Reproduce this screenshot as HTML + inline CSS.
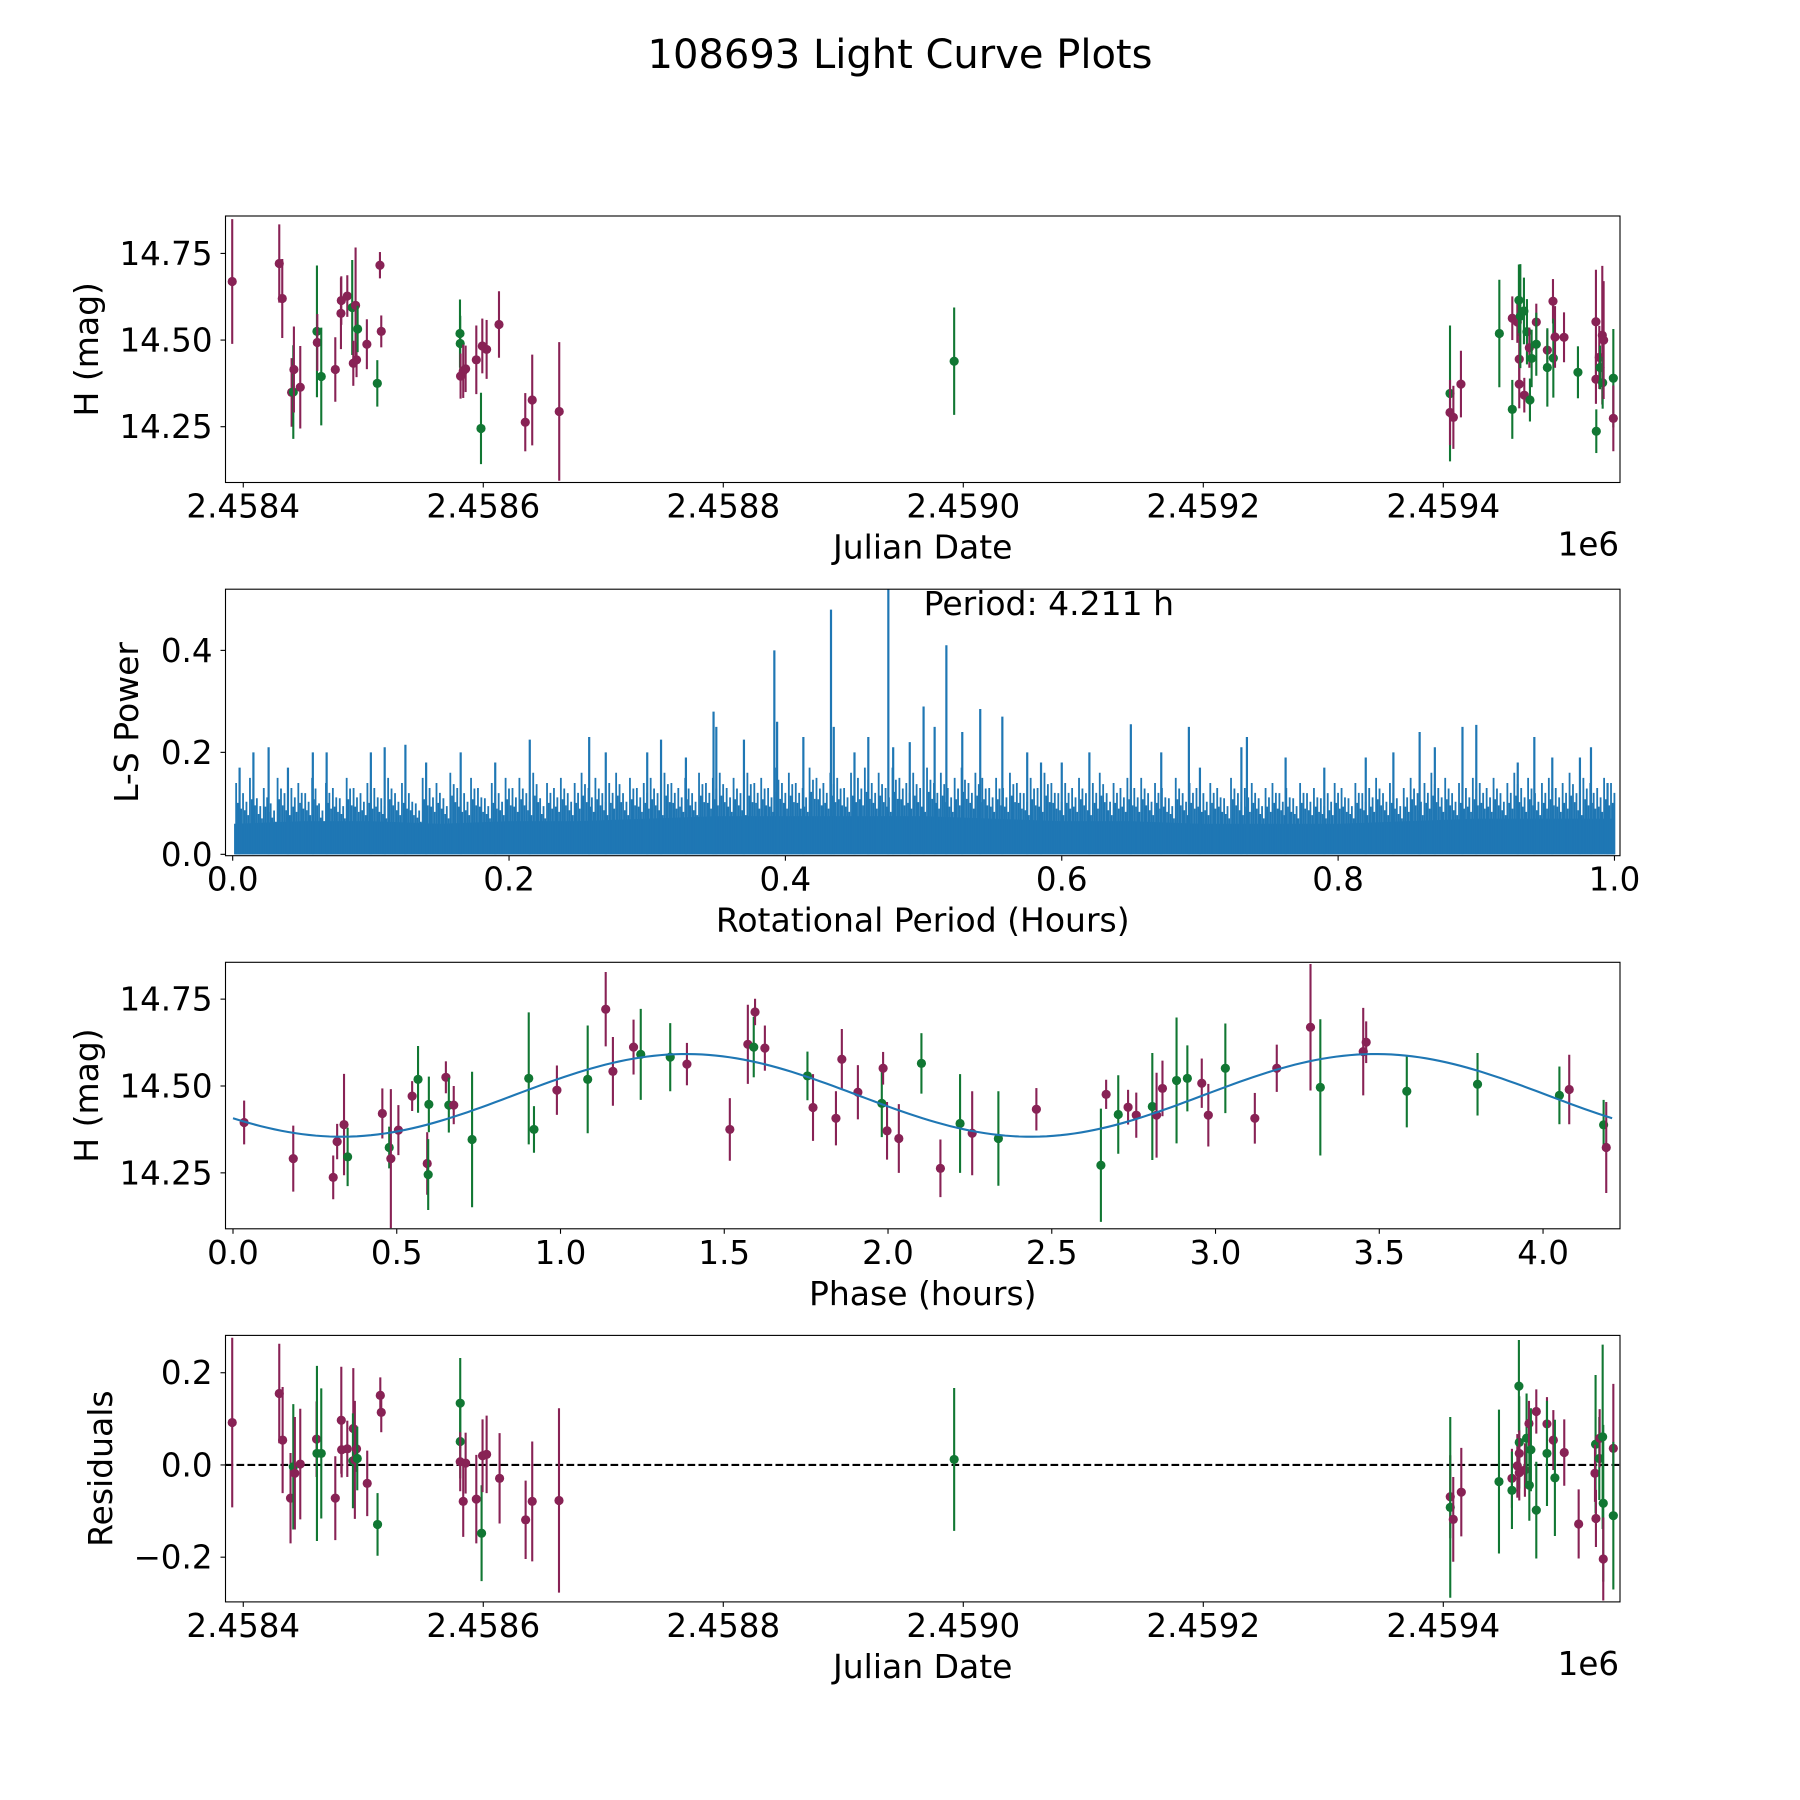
<!DOCTYPE html>
<html><head><meta charset="utf-8"><title>108693 Light Curve Plots</title>
<style>
html,body{margin:0;padding:0;background:#fff;}
svg{display:block;font-family:"DejaVu Sans","Liberation Sans",sans-serif;}
</style></head>
<body>
<svg id="fig" width="1800" height="1800" viewBox="0 0 1800 1800" xmlns="http://www.w3.org/2000/svg">
<rect x="0" y="0" width="1800" height="1800" fill="#fff"/>
<text x="900" y="68" font-size="40" text-anchor="middle">108693 Light Curve Plots</text>
</svg>
<script>
// ---------- Light curve data (JD - 2458400) ----------
const JD_BASE = 2458400;
const lcDays = [-9.2,30,32.5,40.3,41.7,42.2,47.5,61.4,61.7,65,76.7,81.4,81.7,86.7,90.8,91.7,93.6,94.4,95.3,103,111.7,113.9,115,180.6,180.8,181.1,183.3,185.3,194.2,198.1,199.2,202.8,213.1,235,240.8,263.3,592.4,
1005.6,1005.6,1008.4,1014.7,1046.7,1057.5,1057.5,1061.7,1063,1063.3,1063.3,1064.2,1067.2,1067.5,1069.7,1071.7,1072.2,1073.6,1077.5,1077.5,1086.7,1086.7,1091.4,1091.7,1093.1,1100.6,1112.2,1127.2,1127.2,1127.5,1130,1130.6,1132.5,1132.8,1133.6,1141.7,1141.7];
const lcMag = [14.669,14.721,14.62,14.349,14.35,14.415,14.364,14.525,14.493,14.395,14.415,14.577,14.614,14.627,14.594,14.433,14.60,14.443,14.532,14.488,14.375,14.716,14.525,14.519,14.49,14.396,14.41,14.417,14.443,14.245,14.483,14.473,14.545,14.263,14.327,14.294,14.439,
14.346,14.291,14.277,14.373,14.519,14.30,14.563,14.552,14.615,14.445,14.373,14.569,14.584,14.341,14.524,14.478,14.327,14.447,14.552,14.488,14.471,14.421,14.612,14.448,14.509,14.508,14.407,14.553,14.387,14.237,14.45,14.421,14.514,14.377,14.50,14.39,14.274];
const lcErr = [0.18,0.113,0.114,0.099,0.135,0.124,0.119,0.19,0.082,0.141,0.093,0.103,0.07,0.06,0.137,0.065,0.167,0.05,0.067,0.072,0.067,0.038,0.046,0.098,0.08,0.065,0.077,0.067,0.099,0.103,0.079,0.085,0.096,0.084,0.131,0.2,0.155,
0.196,0.094,0.091,0.096,0.155,0.085,0.063,0.06,0.103,0.075,0.07,0.15,0.096,0.05,0.094,0.058,0.062,0.083,0.053,0.091,0.058,0.113,0.064,0.114,0.089,0.072,0.075,0.15,0.071,0.063,0.091,0.063,0.2,0.075,0.17,0.142,0.095];
const lcBand = "PPPPGPPGPGPPPPGPPPGPGPPGGPPPPGPPPPPPG"+"GPPPGGPPGPPGGPGPGGPGPGPGPPGPPGPGPGPG";

// ---------- Lomb-Scargle periodogram ----------
const lsGridStart = 0.0025, lsGridStep = 0.005;
const lsPower = [
.14,.12,.15,.11,.13,.10,.15,.12,.13,.14, .12,.15,.10,.14,.13,.11,.15,.13,.12,.14,
.13,.11,.15,.12,.14,.12,.10,.15,.13,.14, .11,.16,.13,.12,.15,.13,.11,.14,.12,.15,
.13,.15,.12,.16,.11,.14,.13,.15,.12,.14, .16,.13,.15,.12,.14,.16,.12,.15,.13,.14,
.15,.12,.16,.14,.13,.15,.12,.16,.14,.15, .16,.13,.15,.12,.16,.14,.15,.13,.17,.14,
.16,.14,.13,.17,.15,.14,.16,.15,.13,.16, .15,.17,.14,.16,.13,.17,.15,.14,.16,.13,
.17,.14,.16,.13,.15,.17,.14,.16,.15,.13, .15,.13,.16,.14,.12,.15,.13,.16,.14,.12,
.14,.13,.15,.12,.14,.16,.12,.14,.13,.15, .13,.15,.12,.14,.13,.11,.15,.12,.14,.13,
.12,.14,.13,.11,.15,.12,.13,.14,.11,.13, .14,.12,.13,.11,.14,.12,.13,.11,.12,.14,
.13,.11,.14,.12,.13,.15,.12,.14,.11,.13, .15,.12,.14,.16,.13,.15,.12,.14,.13,.15,
.14,.13,.15,.12,.14,.16,.13,.15,.12,.14, .15,.13,.14,.16,.12,.15,.14,.13,.15,.14];
const lsFloor = [.06,.065,.065,.06,.065,.065,.07,.075,.075,.075,.075,.07,.065,.065,.06,.06,.06,.065,.07,.07,.07];
const peakPeriods = [0.005,0.015,0.026,0.04,0.058,0.068,0.1,0.11,0.125,0.14,0.165,0.19,0.215,0.258,0.27,0.3,0.31,0.328,0.348,0.35,0.37,0.392,0.394,0.413,0.433,0.435,0.45,0.46,0.4745,0.478,0.49,0.5,0.508,0.5165,0.528,0.541,0.557,0.575,0.585,0.6,0.62,0.65,0.672,0.692,0.7,0.73,0.734,0.762,0.79,0.82,0.84,0.859,0.87,0.89,0.9,0.93,0.942,0.955,0.975,0.983,0.995];
const peakPowers  = [0.17,0.2,0.21,0.17,0.2,0.2,0.2,0.21,0.215,0.18,0.2,0.18,0.225,0.23,0.2,0.2,0.225,0.19,0.28,0.25,0.225,0.40,0.26,0.23,0.48,0.25,0.2,0.23,0.53,0.21,0.22,0.29,0.25,0.41,0.24,0.285,0.27,0.2,0.18,0.18,0.2,0.255,0.2,0.25,0.17,0.21,0.23,0.19,0.17,0.19,0.2,0.24,0.21,0.25,0.254,0.18,0.23,0.19,0.19,0.21,0.14];

// ---------- Phased light curve ----------
const phPhase = [0.034,0.184,0.306,0.318,0.339,0.35,0.456,0.477,0.482,0.505,0.547,0.565,0.593,0.596,0.598,0.65,0.659,0.674,0.73,0.903,0.919,0.989,1.083,1.138,1.16,1.223,1.245,1.335,1.386,1.517,1.572,1.59,1.594,1.624,1.754,1.771,1.841,1.859,1.908,1.981,1.985,1.997,2.033,
2.102,2.16,2.22,2.257,2.337,2.453,2.65,2.666,2.703,2.733,2.758,2.807,2.82,2.838,2.881,2.914,2.958,2.978,3.03,3.12,3.187,3.29,3.32,3.451,3.46,3.584,3.8,4.05,4.08,4.185,4.193];
const phMag = [14.395,14.291,14.237,14.34,14.389,14.296,14.421,14.323,14.291,14.373,14.471,14.519,14.277,14.245,14.447,14.525,14.445,14.445,14.346,14.522,14.375,14.488,14.519,14.721,14.542,14.612,14.591,14.583,14.563,14.375,14.62,14.612,14.713,14.609,14.529,14.438,14.407,14.577,14.482,14.45,14.551,14.371,14.349,
14.565,14.263,14.392,14.364,14.349,14.433,14.272,14.476,14.418,14.439,14.416,14.441,14.416,14.493,14.516,14.522,14.508,14.416,14.551,14.407,14.551,14.669,14.496,14.599,14.626,14.485,14.505,14.473,14.49,14.388,14.323];
const phErr = [0.063,0.095,0.063,0.051,0.146,0.084,0.072,0.06,0.2,0.072,0.043,0.096,0.09,0.102,0.08,0.046,0.079,0.055,0.195,0.19,0.067,0.071,0.155,0.107,0.099,0.079,0.131,0.098,0.061,0.09,0.114,0.087,0.038,0.065,0.07,0.096,0.078,0.087,0.078,0.097,0.047,0.083,0.099,
0.087,0.083,0.142,0.121,0.136,0.061,0.163,0.042,0.113,0.05,0.065,0.154,0.122,0.08,0.181,0.095,0.071,0.09,0.129,0.073,0.068,0.182,0.196,0.126,0.06,0.104,0.09,0.083,0.1,0.072,0.131];
const phBand = "PPPPPGPGPPPGPGGPGPGGGPGPPPGGPPPGPPGPPPPGPPP"+"GPGPGPGPGPPGPPGGPPGPPPGPPGGGPGPP";
const modelPeriod = 4.211, modelMean = 14.473, modelAmp = 0.119, modelMinPhase = 0.33;

// ---------- Residuals ----------
const resDays = [-9.2,30,32.8,39.4,41.7,43,47.5,61.1,61.4,65,76.7,81.7,82,86.7,91.7,91.4,93,94.4,95,103.3,111.9,114.2,115,180.8,180.8,180.8,183.3,185.3,194.2,198.6,199.4,202.8,213.6,235.3,240.8,263.1,592.4,
1005.8,1005.8,1008.3,1015,1046.4,1057.2,1057.2,1061.7,1063,1063.3,1063.3,1063.3,1068,1069.4,1071.4,1071.7,1073,1077.5,1077.5,1086.4,1086.4,1091.7,1093,1100.8,1112.8,1126.9,1126.4,1127.2,1130,1130.3,1132.8,1133.3,1133.3,1141.7,1141.7];
const resVal = [0.092,0.155,0.054,-0.072,-0.004,-0.018,0.002,0.056,0.025,0.025,-0.072,0.097,0.033,0.035,0.079,0.009,0.011,0.035,0.014,-0.04,-0.129,0.151,0.114,0.134,0.051,0.007,-0.079,0.004,-0.074,-0.148,0.02,0.023,-0.029,-0.119,-0.079,-0.077,0.012,
-0.069,-0.092,-0.118,-0.059,-0.036,-0.029,-0.055,-0.002,0.171,0.049,0.025,-0.017,-0.011,0.058,0.09,-0.044,0.033,0.116,-0.098,0.089,0.025,0.054,-0.028,0.027,-0.128,0.045,-0.018,-0.116,0.014,0.058,0.061,-0.083,-0.204,0.036,-0.11];
const resErr = [0.184,0.108,0.115,0.098,0.136,0.122,0.12,0.082,0.19,0.141,0.091,0.116,0.06,0.061,0.131,0.103,0.128,0.05,0.069,0.071,0.068,0.039,0.043,0.098,0.08,0.064,0.077,0.066,0.096,0.104,0.079,0.084,0.098,0.085,0.13,0.2,0.155,
0.09,0.196,0.092,0.096,0.156,0.064,0.084,0.069,0.1,0.1,0.05,0.06,0.058,0.097,0.049,0.077,0.09,0.048,0.105,0.058,0.114,0.065,0.126,0.072,0.075,0.15,0.062,0.062,0.09,0.063,0.2,0.17,0.09,0.14,0.16];
const resBand = "PPPPGPPPGGPPPPPGPPGPGPPGGPPPPGPPPPPPG"+"PGPPGPGPGGPPPGPGGPGPGPGPPGPPGPGGPPG";

// ---------- Layout ----------
const NS = "http://www.w3.org/2000/svg";
const svg = document.getElementById('fig');
const AXL = 225.5, AXW = 1394.5, AXH = 266.5;
const AXTOPS = [216, 589.2, 962.3, 1335.4];
const COL = {P: '#882255', G: '#117733'};
const FS = 32.5;
function el(tag, attrs, parent) {
  const e = document.createElementNS(NS, tag);
  for (const k in attrs) e.setAttribute(k, attrs[k]);
  (parent || svg).appendChild(e);
  return e;
}
function scale(d0, d1, p0, p1) { return v => p0 + (v - d0) / (d1 - d0) * (p1 - p0); }
function fmtMinus(s) { return s.replace('-', '\u2212'); }

function makeAxes(i, name, xr, yr) {
  const top = AXTOPS[i];
  const g = el('g', {});
  
  
  const cp = el('clipPath', {id: 'clip' + i}, g);
  el('rect', {x: AXL, y: top, width: AXW, height: AXH}, cp);
  const plot = el('g', {'clip-path': 'url(#clip' + i + ')'}, g);
  
  
  return {g, plot, top, bottom: top + AXH,
    sx: scale(xr[0], xr[1], AXL, AXL + AXW),
    sy: scale(yr[0], yr[1], top + AXH, top)};
}
function frame(ax, name) {
  const r = el('rect', {x: AXL, y: ax.top, width: AXW, height: AXH, fill: 'none', stroke: '#000', 'stroke-width': 1.1}, ax.g);
  
  
}
function xTicks(ax, vals, labels, name) {
  vals.forEach((v, k) => {
    const x = ax.sx(v);
    const t = el('line', {x1: x, x2: x, y1: ax.bottom, y2: ax.bottom + 5, stroke: '#000', 'stroke-width': 1.1}, ax.g);
    
    
    const tx = el('text', {x: x, y: ax.bottom + 35, 'font-size': FS, 'text-anchor': 'middle'}, ax.g);
    tx.textContent = labels[k];
    
    
  });
}
function yTicks(ax, vals, labels, name) {
  vals.forEach((v, k) => {
    const y = ax.sy(v);
    const t = el('line', {x1: AXL - 5, x2: AXL, y1: y, y2: y, stroke: '#000', 'stroke-width': 1.1}, ax.g);
    
    
    const tx = el('text', {x: AXL - 13, y: y + 11.5, 'font-size': FS, 'text-anchor': 'end'}, ax.g);
    tx.textContent = labels[k];
    
    
  });
}
function labels(ax, xl, yl, ylx, name) {
  const a = el('text', {x: AXL + AXW / 2, y: ax.bottom + 76, 'font-size': FS + 0.5, 'text-anchor': 'middle'}, ax.g);
  a.textContent = xl;
  
  
  const cy = ax.top + AXH / 2;
  const b = el('text', {x: ylx, y: cy, 'font-size': FS + 0.5, 'text-anchor': 'middle', transform: 'rotate(-90 ' + ylx + ' ' + cy + ')'}, ax.g);
  b.textContent = yl;
  
  
}
function offsetText(ax, name) {
  const t = el('text', {x: 1619, y: ax.bottom + 73, 'font-size': FS, 'text-anchor': 'end'}, ax.g);
  t.textContent = '1e6';
  
  
}
function errorbars(ax, xs, ys, es, bands, name) {
  for (let i = 0; i < xs.length; i++) {
    const c = COL[bands[i]] || COL.P;
    const x = ax.sx(xs[i]);
    const ln = el('line', {x1: x, x2: x, y1: ax.sy(ys[i] - es[i]), y2: ax.sy(ys[i] + es[i]), stroke: c, 'stroke-width': 2.1}, ax.plot);
    
    
    const d = el('circle', {cx: x, cy: ax.sy(ys[i]), r: 4.6, fill: c}, ax.plot);
    
    
  }
}

const jdTicks = [0, 200, 400, 600, 800, 1000];
const jdTickLabels = ['2.4584', '2.4586', '2.4588', '2.4590', '2.4592', '2.4594'];
const magTicks = [14.25, 14.5, 14.75];
const magTickLabels = ['14.25', '14.50', '14.75'];

// Panel 1: light curve
const ax1 = makeAxes(0, 'light-curve-panel', [-14.8, 1147.25], [14.089, 14.858]);
errorbars(ax1, lcDays, lcMag, lcErr, lcBand, 'light-curve');
frame(ax1, 'light-curve');
xTicks(ax1, jdTicks, jdTickLabels, 'light-curve');
yTicks(ax1, magTicks, magTickLabels, 'light-curve');
labels(ax1, 'Julian Date', 'H (mag)', 98, 'light-curve');
offsetText(ax1, 'light-curve');

// Panel 2: periodogram
const ax2 = makeAxes(1, 'periodogram-panel', [-0.0052, 1.004], [-0.0027, 0.52]);
{
  let d = 'M' + ax2.sx(0.001) + ' ' + ax2.sy(0);
  lsFloor.forEach((v, k) => { d += ' L' + ax2.sx(Math.min(1, Math.max(0.001, k * 0.05))) + ' ' + ax2.sy(v); });
  d += ' L' + ax2.sx(1) + ' ' + ax2.sy(0) + ' Z';
  const p = el('path', {d: d, fill: '#1f77b4'}, ax2.plot);
  
  
  const subOffsets = [0, 1.7, 3.4, 5.1];
  const subFactors = [1.0, 0.72, 0.86, 0.64];
  lsPower.forEach((v, k) => {
    const x0 = ax2.sx(lsGridStart + k * lsGridStep);
    subOffsets.forEach((o, j) => {
      const x = x0 + o;
      if (x > ax2.sx(1)) return;
      const l = el('line', {x1: x, x2: x, y1: ax2.sy(0), y2: ax2.sy(v * subFactors[j]), stroke: '#1f77b4', 'stroke-width': 1.8}, ax2.plot);
      
      
    });
  });
  peakPeriods.forEach((pp, k) => {
    const x = ax2.sx(pp);
    const l = el('line', {x1: x, x2: x, y1: ax2.sy(0), y2: ax2.sy(peakPowers[k]), stroke: '#1f77b4', 'stroke-width': 2.2}, ax2.plot);
    
    
  });
  const t = el('text', {x: 923.6, y: 615, 'font-size': 33}, ax2.g);
  t.textContent = 'Period: 4.211 h';
  
  
}
frame(ax2, 'periodogram');
xTicks(ax2, [0, 0.2, 0.4, 0.6, 0.8, 1.0], ['0.0', '0.2', '0.4', '0.6', '0.8', '1.0'], 'periodogram');
yTicks(ax2, [0, 0.2, 0.4], ['0.0', '0.2', '0.4'], 'periodogram');
labels(ax2, 'Rotational Period (Hours)', 'L-S Power', 138, 'periodogram');

// Panel 3: phased light curve
const ax3 = makeAxes(2, 'phase-panel', [-0.0229, 4.235], [14.089, 14.856]);
errorbars(ax3, phPhase, phMag, phErr, phBand, 'phase');
{
  let d = '';
  for (let k = 0; k <= 200; k++) {
    const ph = modelPeriod * k / 200;
    const m = modelMean - modelAmp * Math.cos(2 * Math.PI * (ph - modelMinPhase) / (modelPeriod / 2));
    d += (k ? ' L' : 'M') + ax3.sx(ph).toFixed(2) + ' ' + ax3.sy(m).toFixed(2);
  }
  const p = el('path', {d: d, fill: 'none', stroke: '#1f77b4', 'stroke-width': 2.1}, ax3.plot);
  
  
}
frame(ax3, 'phase');
xTicks(ax3, [0, 0.5, 1, 1.5, 2, 2.5, 3, 3.5, 4], ['0.0', '0.5', '1.0', '1.5', '2.0', '2.5', '3.0', '3.5', '4.0'], 'phase');
yTicks(ax3, magTicks, magTickLabels, 'phase');
labels(ax3, 'Phase (hours)', 'H (mag)', 98, 'phase');

// Panel 4: residuals
const ax4 = makeAxes(3, 'residuals-panel', [-14.8, 1147.25], [-0.297, 0.281]);
{
  const z = el('line', {x1: AXL, x2: AXL + AXW, y1: ax4.sy(0), y2: ax4.sy(0), stroke: '#000', 'stroke-width': 2.1, 'stroke-dasharray': '7.7,3.3'}, ax4.plot);
  
  
}
errorbars(ax4, resDays, resVal, resErr, resBand, 'residual');
frame(ax4, 'residuals');
xTicks(ax4, jdTicks, jdTickLabels, 'residuals');
yTicks(ax4, [-0.2, 0, 0.2], [fmtMinus('-0.2'), '0.0', '0.2'], 'residuals');
labels(ax4, 'Julian Date', 'Residuals', 112, 'residuals');
offsetText(ax4, 'residuals');
</script>
</body></html>
